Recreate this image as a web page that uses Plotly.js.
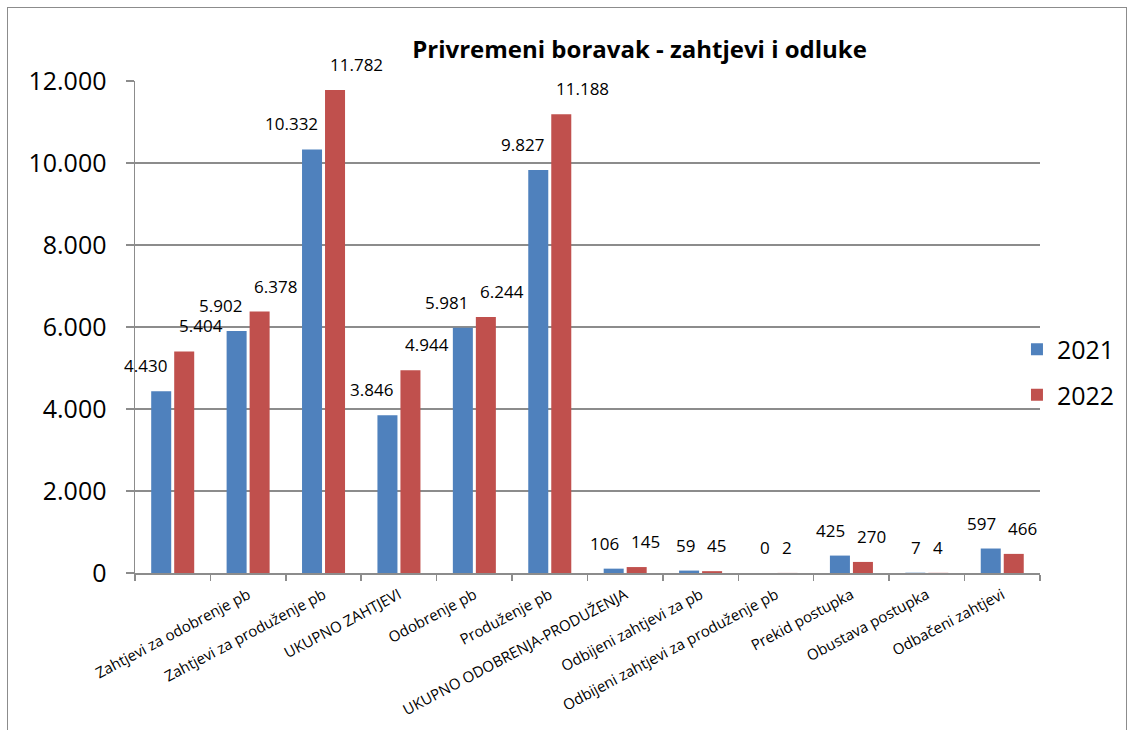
<!DOCTYPE html>
<html>
<head>
<meta charset="utf-8">
<script src="https://cdn.plot.ly/plotly-3.0.1.min.js"></script>
<style>
html,body{margin:0;padding:0;background:#fff;}
#wrap{position:relative;width:1130px;height:730px;overflow:hidden;}
#chart{width:1130px;height:730px;}
#frame{position:absolute;left:7px;top:7px;width:1120px;height:740px;border:1.5px solid #8c8c8c;pointer-events:none;box-sizing:border-box;}
</style>
</head>
<body>
<div id="wrap"><div id="chart"></div><div id="frame"></div></div>
<script>
// Category tick labels as drawn (first group has no label in the reference)
const categories = [
  " ",
  "Zahtjevi za odobrenje pb",
  "Zahtjevi za produženje pb",
  "UKUPNO ZAHTJEVI",
  "Odobrenje pb",
  "Produženje pb",
  "UKUPNO ODOBRENJA-PRODUŽENJA",
  "Odbijeni zahtjevi za pb",
  "Odbijeni zahtjevi za produženje pb",
  "Prekid postupka",
  "Obustava postupka",
  "Odbačeni zahtjevi"
];
const values2021 = [4430, 5902, 10332, 3846, 5981, 9827, 106, 59, 0, 425, 7, 597];
const values2022 = [5404, 6378, 11782, 4944, 6244, 11188, 145, 45, 2, 270, 4, 466];
const yTicks = [0, 2000, 4000, 6000, 8000, 10000, 12000];

const FONT = "'Open Sans', Carlito, Calibri, sans-serif";

const traces = [
  {
    type: 'bar', name: '2021', x: categories, y: values2021,
    marker: {color: '#4F81BD'}, legendgroup: 'a'
  },
  {
    type: 'bar', name: '2022', x: categories, y: values2022,
    marker: {color: '#C0504D'}, legendgroup: 'b'
  }
];

function fmt(v) {
  return String(v).replace(/\B(?=(\d{3})+(?!\d))/g, '.');
}

// Data labels: 2021 label ends just left of the group centre, 2022 label starts just right of it
const annotations = [];
[[values2021, 'right', -4], [values2022, 'left', 4]].forEach(([vals, anchor, dx]) => {
  vals.forEach((v, i) => {
    annotations.push({
      x: categories[i], y: v, xref: 'x', yref: 'y',
      text: fmt(v), showarrow: false,
      xanchor: anchor, yanchor: 'bottom',
      xshift: dx, yshift: 12,
      font: {family: FONT, size: 17, color: '#000'}
    });
  });
});

const layout = {
  width: 1130, height: 730,
  margin: {l: 135, r: 0, t: 81, b: 157, pad: 0},
  separators: ',.',
  paper_bgcolor: 'rgba(0,0,0,0)',
  plot_bgcolor: 'rgba(0,0,0,0)',
  font: {family: FONT, color: '#000'},
  title: {
    text: '<b>Privremeni boravak - zahtjevi i odluke</b>',
    font: {family: FONT, size: 24, color: '#000'},
    xref: 'container', x: 0.566, xanchor: 'center', y: 0.932, yanchor: 'middle'
  },
  barmode: 'group',
  bargap: 0.39,
  bargroupgap: 0.13,
  showlegend: true,
  legend: {
    xref: 'paper', yref: 'paper',
    x: 0.8864, xanchor: 'left', y: 0.4085, yanchor: 'middle',
    font: {family: FONT, size: 25, color: '#000'},
    itemwidth: 30, traceorder: 'grouped', tracegroupgap: 10,
    bgcolor: 'rgba(0,0,0,0)'
  },
  annotations: annotations,
  xaxis: {
    type: 'category',
    domain: [0, 0.9095],
    range: [-0.5, categories.length - 0.5],
    autorange: false,
    tickangle: -28,
    tickfont: {family: FONT, size: 15, color: '#000'},
    ticks: 'outside', tickson: 'boundaries', ticklen: 6, tickcolor: '#8c8c8c', tickwidth: 1.5,
    ticklabelstandoff: 6,
    showline: true, linecolor: '#8c8c8c', linewidth: 1.5,
    showgrid: false, automargin: false, fixedrange: true
  },
  yaxis: {
    range: [0, 12000],
    autorange: false,
    tickvals: yTicks,
    tickformat: ',d',
    tickfont: {family: FONT, size: 25, color: '#000'},
    ticks: 'outside', ticklen: 8, tickcolor: '#8c8c8c', tickwidth: 1.5,
    ticklabelstandoff: 14,
    showline: true, linecolor: '#8c8c8c', linewidth: 1.5,
    showgrid: true, gridcolor: '#8c8c8c', gridwidth: 1.3,
    zeroline: false, automargin: false, fixedrange: true
  }
};

Plotly.newPlot('chart', traces, layout, {displayModeBar: false, staticPlot: true});
</script>
</body>
</html>
